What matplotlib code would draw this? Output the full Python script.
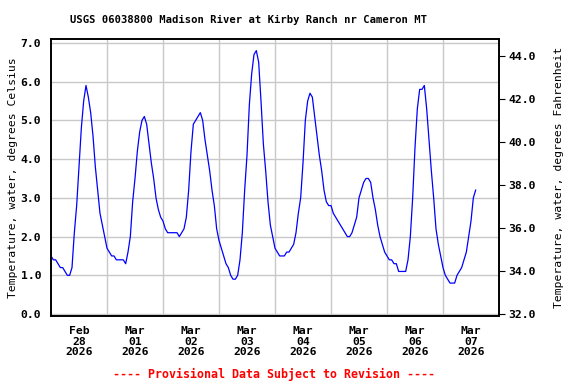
import matplotlib
matplotlib.use('Agg')
import matplotlib.pyplot as plt
import pandas as pd

# hourly water temperature (deg C), starting 2026-02-28 00:00
feb28 = [1.5, 1.4, 1.4, 1.3, 1.2, 1.2, 1.1, 1.0, 1.0, 1.2, 2.1, 2.8,
         3.8, 4.8, 5.5, 5.9, 5.6, 5.2, 4.6, 3.8, 3.2, 2.6, 2.3, 2.0]
mar01 = [1.7, 1.6, 1.5, 1.5, 1.4, 1.4, 1.4, 1.4, 1.3, 1.6, 2.0, 2.9,
         3.5, 4.2, 4.7, 5.0, 5.1, 4.9, 4.4, 3.9, 3.5, 3.0, 2.7, 2.5]
mar02 = [2.4, 2.2, 2.1, 2.1, 2.1, 2.1, 2.1, 2.0, 2.1, 2.2, 2.5, 3.2,
         4.2, 4.9, 5.0, 5.1, 5.2, 5.0, 4.5, 4.1, 3.7, 3.2, 2.8, 2.2]
mar03 = [1.9, 1.7, 1.5, 1.3, 1.2, 1.0, 0.9, 0.9, 1.0, 1.4, 2.1, 3.2,
         4.1, 5.4, 6.2, 6.7, 6.8, 6.5, 5.5, 4.4, 3.7, 2.9, 2.3, 2.0]
mar04 = [1.7, 1.6, 1.5, 1.5, 1.5, 1.6, 1.6, 1.7, 1.8, 2.1, 2.6, 3.0,
         3.9, 5.0, 5.5, 5.7, 5.6, 5.1, 4.6, 4.1, 3.7, 3.2, 2.9, 2.8]
mar05 = [2.8, 2.6, 2.5, 2.4, 2.3, 2.2, 2.1, 2.0, 2.0, 2.1, 2.3, 2.5,
         3.0, 3.2, 3.4, 3.5, 3.5, 3.4, 3.0, 2.7, 2.3, 2.0, 1.8, 1.6]
mar06 = [1.5, 1.4, 1.4, 1.3, 1.3, 1.1, 1.1, 1.1, 1.1, 1.4, 2.0, 3.0,
         4.3, 5.3, 5.8, 5.8, 5.9, 5.3, 4.5, 3.7, 3.0, 2.2, 1.8, 1.5]
mar07 = [1.2, 1.0, 0.9, 0.8, 0.8, 0.8, 1.0, 1.1, 1.2, 1.4, 1.6, 2.0,
         2.4, 3.0, 3.2]

temps = feb28 + mar01 + mar02 + mar03 + mar04 + mar05 + mar06 + mar07
times = pd.date_range('2026-02-28 00:00', periods=len(temps), freq='h')

day_labels = ['Feb\n28\n2026', 'Mar\n01\n2026', 'Mar\n02\n2026', 'Mar\n03\n2026',
              'Mar\n04\n2026', 'Mar\n05\n2026', 'Mar\n06\n2026', 'Mar\n07\n2026']
c_ticks = [0, 1, 2, 3, 4, 5, 6, 7]
f_ticks = [32, 34, 36, 38, 40, 42, 44]

plt.rcParams['font.family'] = 'DejaVu Sans Mono'
plt.rcParams['font.weight'] = 'bold'

fig = plt.figure(figsize=(5.76, 3.84), dpi=100)
ax = fig.add_axes([51/576, 1 - 316/384, 448/576, 277/384])

ax.plot(times, temps, color='#0000ff', linewidth=0.9, zorder=3)

# x axis: grid at midnight, labels at noon
t0 = pd.Timestamp('2026-02-28')
ax.set_xlim(t0, t0 + pd.Timedelta(days=8))
noon = [t0 + pd.Timedelta(days=i, hours=12) for i in range(8)]
midnight = [t0 + pd.Timedelta(days=i) for i in range(1, 8)]
ax.set_xticks(noon)
ax.set_xticklabels(day_labels, fontsize=8.2, linespacing=1.1)
ax.set_xticks(midnight, minor=True)
ax.tick_params(axis='x', which='both', length=0, pad=7)
ax.grid(True, axis='x', which='minor', color='#c8c8c8', linewidth=1.0, zorder=0)

ax.set_ylim(-0.05, 7.1)
ax.set_yticks(c_ticks)
ax.set_yticklabels([f'{v:.1f}' for v in c_ticks], fontsize=8.2)
ax.tick_params(axis='y', length=0, pad=7)
ax.grid(True, axis='y', which='major', color='#c8c8c8', linewidth=1.0, zorder=0)
ax.set_ylabel('Temperature, water, degrees Celsius', fontsize=8.2, labelpad=2)

for s in ax.spines.values():
    s.set_color('black')
    s.set_linewidth(1.2)

ax2 = ax.twinx()
lo, hi = ax.get_ylim()
ax2.set_ylim(lo * 1.8 + 32, hi * 1.8 + 32)
ax2.set_yticks(f_ticks)
ax2.set_yticklabels([f'{v:.1f}' for v in f_ticks], fontsize=8.2)
ax2.tick_params(axis='y', length=4, width=0.8, pad=3)
ax2.set_ylabel('Temperature, water, degrees Fahrenheit', fontsize=8.2, labelpad=13)
for s in ax2.spines.values():
    s.set_color('black')
    s.set_linewidth(1.2)

fig.text(0.432, 0.948, 'USGS 06038800 Madison River at Kirby Ranch nr Cameron MT',
         ha='center', va='center', fontsize=7.6)
fig.text(0.475, 0.024, '---- Provisional Data Subject to Revision ----',
         ha='center', va='center', fontsize=8.4, color='red')

fig.savefig('out.png', dpi=100)
